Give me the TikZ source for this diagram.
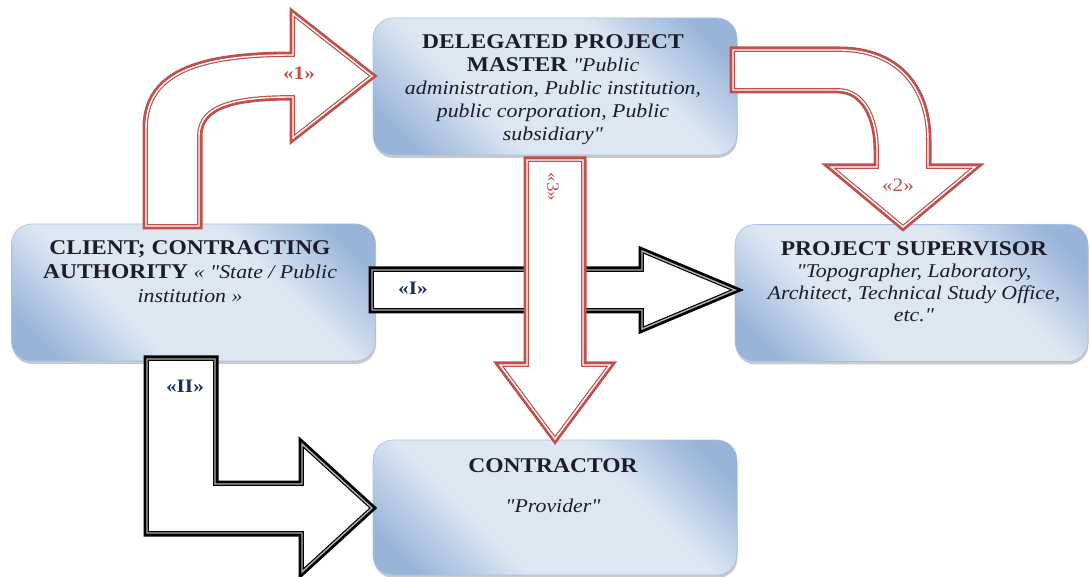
\documentclass[tikz,border=0pt]{standalone}
\usepackage{fontspec}
\setmainfont{Liberation Serif}[FakeStretch=1.12, Ligatures=TeXOff]
\usetikzlibrary{shadows}
\definecolor{boxdark}{HTML}{98B4D9}
\definecolor{boxlight}{HTML}{DDE7F2}
\definecolor{boxedge}{HTML}{A9C0DE}
\definecolor{arrowred}{HTML}{C0504D}
\definecolor{inkdark}{HTML}{1C1C2A}
\definecolor{labnavy}{HTML}{1F2E5C}

% light centre, darker towards two opposite corners
\pgfdeclareverticalshading{boxshade}{100bp}{%
  color(0bp)=(boxdark); color(21bp)=(boxdark); color(37bp)=(boxlight);
  color(63bp)=(boxlight); color(79bp)=(boxdark); color(100bp)=(boxdark)}

% bold heading and italic note inside a box
\newcommand{\hd}[1]{{\fontsize{21}{23}\selectfont\bfseries #1}}
\newcommand{\nt}[1]{{\fontsize{19.5}{23}\selectfont\itshape #1}}

\begin{document}
\begin{tikzpicture}[x=1pt,y=-1pt,
  box/.style={rounded corners=20pt, minimum width=364pt, minimum height=137pt,
    inner sep=0pt, draw=boxedge, line width=0.6pt,
    shading=boxshade, shading angle=-45,
    drop shadow={shadow xshift=0.5pt, shadow yshift=-3pt, opacity=0.3, fill=black!70}},
  boxtext/.style={align=center, anchor=base, inner sep=0pt, text=inkdark,
    font=\fontsize{20}{23}\selectfont},
  redarrow/.style={preaction={draw=arrowred, line width=7pt, line join=miter},
    fill=white, draw=arrowred, line width=1.2pt, double=white,
    double distance=1.4pt, line join=miter, miter limit=10},
  blackarrow/.style={preaction={draw=black, line width=7pt, line join=miter},
    fill=white, draw=black, line width=1.2pt, double=black!30,
    double distance=1.4pt, line join=miter, miter limit=10},
  redlab/.style={text=arrowred, font=\fontsize{19}{19}\selectfont\bfseries, inner sep=0pt},
  navylab/.style={text=labnavy, font=\fontsize{19}{19}\selectfont\bfseries, inner sep=0pt}]

\useasboundingbox (0,0) rectangle (1090,577);

% the four actors
\node[box] (del) at (555,86.5) {};
\node[box] (client) at (193.5,292.5) {};
\node[box, minimum width=353pt] (sup) at (911.5,293) {};
\node[box, minimum height=135pt] (con) at (555,507.5) {};

% «1»: client up and round to the delegated project master
\draw[redarrow] (146,226) -- (146,128)
  .. controls (146,70) and (205,55) .. (293,55)
  -- (293,14) -- (372,76) -- (293,138) -- (293,97)
  .. controls (238,97) and (199,104) .. (199,136)
  -- (199,226) -- cycle;

% «2»: delegated project master round and down to the supervisor
\draw[redarrow] (733,50) -- (840,50)
  .. controls (896,50) and (928,86) .. (928,140)
  -- (928,167) -- (975,167) -- (903,227) -- (831,167) -- (877,167)
  -- (877,150) .. controls (877,118) and (864,90) .. (838,90)
  -- (733,90) -- cycle;

% «I»: client to the project supervisor
\draw[blackarrow] (372,270) -- (642,270) -- (642,251) -- (735,290)
  -- (642,329) -- (642,310) -- (372,310) -- cycle;

% «II»: client down and across to the contractor
\draw[blackarrow] (147,359) -- (215,359) -- (215,484) -- (302,484)
  -- (302,444) -- (372,508) -- (302,572) -- (302,533) -- (147,533) -- cycle;

% «3»: delegated project master down to the contractor
\draw[redarrow] (527,160) -- (583,160) -- (583,365) -- (610,365)
  -- (555,439) -- (500,365) -- (527,365) -- cycle;

% arrow labels
\node[redlab] (l1) at (299,73) {«1»};
\node[redlab, font=\fontsize{19}{19}\selectfont] (l2) at (898,185) {«2»};
\node[redlab, font=\fontsize{17}{17}\selectfont, rotate=-90] (l3) at (553,187) {«3»};
\node[navylab] (lI) at (413,288) {«I»};
\node[navylab] (lII) at (185,386) {«II»};

% texts of the actors (anchored at the baseline of the last line)
\node[boxtext] (delTxt) at (553,141)
  {\hd{DELEGATED PROJECT}\\
   \hd{MASTER} \nt{"Public}\\
   \nt{administration, Public institution,}\\
   \nt{public corporation, Public}\\
   \nt{subsidiary"}};
\node[boxtext, font=\fontsize{20}{24}\selectfont] (clientTxt) at (190,303)
  {\hd{CLIENT; CONTRACTING}\\
   \hd{AUTHORITY} \nt{« "State / Public}\\
   \nt{institution »}};
\node[boxtext, font=\fontsize{20}{22.3}\selectfont] (supTxt) at (914,322)
  {\hd{PROJECT SUPERVISOR}\\
   \nt{"Topographer, Laboratory,}\\
   \nt{Architect, Technical Study Office,}\\
   \nt{etc."}};
\node[boxtext] (conTxt) at (553,472) {\hd{CONTRACTOR}};
\node[boxtext] (conNote) at (553,512) {\nt{"Provider"}};
\end{tikzpicture}
\end{document}
